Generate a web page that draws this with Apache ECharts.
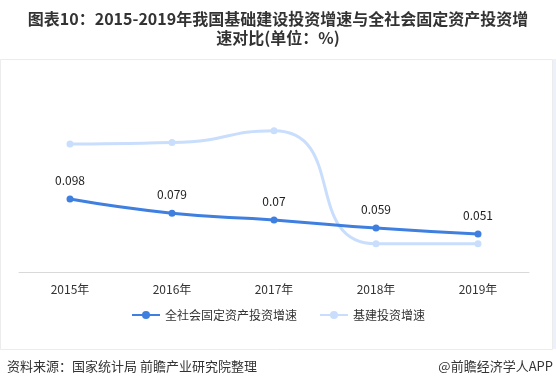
<!DOCTYPE html>
<html><head><meta charset="utf-8">
<script src="https://cdn.jsdelivr.net/npm/echarts@6/dist/echarts.min.js"></script>
<style>html,body{margin:0;padding:0;background:#fff}#c{width:556px;height:389px}</style>
</head><body><div id="c"></div>
<script>
const categories = ['2015年','2016年','2017年','2018年','2019年'];
const fixedAsset = [0.098, 0.079, 0.07, 0.059, 0.051];
const infra = [0.172, 0.174, 0.19, 0.038, 0.038];
const seriesNames = ['全社会固定资产投资增速','基建投资增速'];
const titleLines = ['图表10：2015-2019年我国基础建设投资增速与全社会固定资产投资增', '速对比(单位：%)'];

const chart = echarts.init(document.getElementById('c'));
const font = '"Noto Sans CJK SC", "Microsoft YaHei", sans-serif';
const titleStyle = {fontFamily: font, fontSize: 16, fontWeight: 'bold', color: '#333'};
chart.setOption({
  backgroundColor: '#fff',
  animation: false,
  title: [
    {text: titleLines[0], left: 'center', top: 11, padding: 0, textStyle: titleStyle},
    {text: titleLines[1], left: 'center', top: 30, padding: 0, textStyle: titleStyle}
  ],
  legend: {
    bottom: 63, left: 'center', itemWidth: 28, itemHeight: 10, itemGap: 22,
    textStyle: {fontFamily: font, fontSize: 12, color: '#333'},
    data: seriesNames
  },
  grid: {left: 19, right: 27, top: 86, bottom: 117},
  xAxis: {
    type: 'category', data: categories, boundaryGap: true,
    axisLine: {lineStyle: {color: '#d9d9d9'}},
    axisTick: {show: false},
    axisLabel: {fontFamily: font, fontSize: 12, color: '#333', margin: 11}
  },
  yAxis: {type: 'value', min: 0, max: 0.25, show: false, splitLine: {show: false}},
  graphic: [
    {type: 'rect', shape: {x: 0.5, y: 59.5, width: 552, height: 290}, style: {fill: 'none', stroke: '#ececec', lineWidth: 1}, z: -1},
    {type: 'rect', shape: {x: 553, y: 59, width: 3, height: 290}, style: {fill: '#edf2fa'}, z: -1},
    {type: 'text', left: 7, top: 360, style: {text: '资料来源：国家统计局 前瞻产业研究院整理', font: '13px ' + font, fill: '#333'}},
    {type: 'text', right: 3, top: 360, style: {text: '@前瞻经济学人APP', font: '13px ' + font, fill: '#333'}}
  ],
  series: [
    {
      name: seriesNames[0], type: 'line', smooth: true, data: fixedAsset,
      symbol: 'circle', symbolSize: 7,
      lineStyle: {width: 3, color: '#3f7fe0'}, itemStyle: {color: '#3f7fe0'},
      label: {show: true, position: 'top', distance: 9, fontFamily: font, fontSize: 12, color: '#222'},
      z: 3
    },
    {
      name: seriesNames[1], type: 'line', smooth: 0.6, data: infra,
      symbol: 'circle', symbolSize: 7,
      lineStyle: {width: 3, color: '#c9defc'}, itemStyle: {color: '#c9defc'},
      z: 2
    }
  ]
});
</script></body></html>
